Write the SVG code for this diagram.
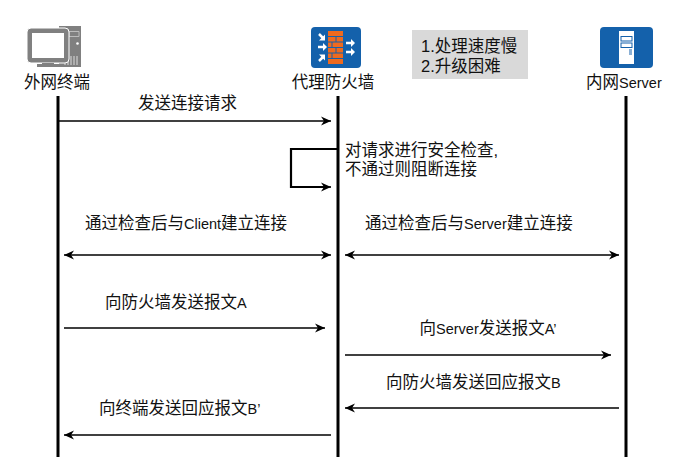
<svg xmlns="http://www.w3.org/2000/svg" width="698" height="457" viewBox="0 0 698 457">
<style>
text{font-family:"Liberation Sans","Noto Sans CJK SC",sans-serif;font-size:16.5px;font-weight:400;fill:#111}
tspan{font-size:14.5px}
.l{stroke:#000;stroke-width:3;fill:none}
.c{stroke:#000;stroke-width:1.6;fill:none}
.e{marker-end:url(#a)}
.s{marker-start:url(#b)}
.w{stroke:#fff;stroke-width:2.500;fill:none}
.h{fill:#fff}
</style>
<defs>
<marker id="a" markerUnits="userSpaceOnUse" markerWidth="12" markerHeight="12" refX="10" refY="5" orient="auto"><path d="M0 0.500L10 5L0 9.500L3 5Z" fill="#000"/></marker>
<marker id="b" markerUnits="userSpaceOnUse" markerWidth="12" markerHeight="12" refX="0" refY="5" orient="auto"><path d="M10 0.500L0 5L10 9.500L7 5Z" fill="#000"/></marker>
</defs>
<rect width="698" height="457" fill="#fff"/>
<g id="client">
<path d="M59 26h22v41h-22z" fill="#808080"/>
<path d="M69 31.500h10v5h-10z" fill="none" stroke="#bbb" stroke-width="1"/>
<circle cx="77.500" cy="43.500" r="1.300" fill="#fff"/>
<path d="M65 65v-9M68 65v-9M71 65v-9M74 65v-9M77 65v-9" stroke="#ddd" stroke-width="1"/>
<rect x="27" y="28" width="42" height="35" rx="4" fill="#808080" stroke="#fff" stroke-width="1"/>
<rect x="32" y="33" width="32" height="25" fill="#fff"/>
<path d="M42 63h12v1h9v3h-26v-3h5z" fill="#808080"/>
<text x="57" y="88" text-anchor="middle">外网终端</text>
<path class="l" d="M58 96V457"/>
</g>
<g id="firewall">
<rect x="311" y="27" width="50" height="41" rx="4" fill="#1461ab"/>
<rect x="328" y="31" width="15" height="33" fill="#ee6a1f"/>
<path d="M328 36.500h15M328 42h15M328 47.500h15M328 53h15M328 58.500h15M336 36.500v5.500M332 42v5.500M336 47.500v5.500M332 53v5.500" stroke="#1461ab" stroke-width="1" fill="none"/>
<path class="w" d="M319 34l5 5M318 47h6M319 61l5-5M346 43h6M346 52h6"/>
<path class="h" d="M325 40.500v-6l-6 6zM323 43l4 4l-4 4zM325 54.500v6l-6-6zM351 39l4 4l-4 4zM351 48l4 4l-4 4z"/>
<text x="333" y="88" text-anchor="middle">代理防火墙</text>
<path class="l" d="M338 96V457"/>
</g>
<g id="note">
<rect x="412" y="30" width="116" height="49" fill="#d9d9d9"/>
<text x="421" y="52">1.处理速度慢</text>
<text x="421" y="72">2.升级困难</text>
</g>
<g id="server">
<rect x="600" y="27" width="53" height="41" rx="4" fill="#1461ab"/>
<rect x="619" y="31" width="15" height="33" fill="#fff"/>
<rect x="621" y="36.500" width="11" height="4.500" fill="#fff" stroke="#1461ab"/>
<rect x="621" y="43" width="11" height="4.500" fill="#fff" stroke="#1461ab"/>
<path d="M629 50h3M629 52h3M629 54h3" stroke="#1461ab" stroke-width="1"/>
<text x="586" y="88">内网<tspan>Server</tspan></text>
<path class="l" d="M626 96V457"/>
</g>
<g id="connectors">
<path class="c e" d="M58 121H331"/>
<path d="M338 149H291V187H325" stroke="#000" stroke-width="2.200" fill="none"/>
<path class="c e" d="M320 187H331"/>
<path class="c e s" d="M64 255H331"/>
<path class="c e s" d="M345 255H619"/>
<path class="c e" d="M64 328H325"/>
<path class="c e" d="M345 355H611"/>
<path class="c e" d="M619 408H345"/>
<path class="c e" d="M331 435H64"/>
</g>
<g id="labels">
<text x="138" y="109">发送连接请求</text>
<text x="345" y="156">对请求进行安全检查,</text>
<text x="345" y="175">不通过则阻断连接</text>
<text x="85" y="229">通过检查后与<tspan>Client</tspan>建立连接</text>
<text x="365" y="229">通过检查后与<tspan>Server</tspan>建立连接</text>
<text x="105" y="308">向防火墙发送报文<tspan>A</tspan></text>
<text x="419.500" y="334">向<tspan>Server</tspan>发送报文<tspan>A’</tspan></text>
<text x="386" y="388">向防火墙发送回应报文<tspan>B</tspan></text>
<text x="99" y="414">向终端发送回应报文<tspan>B’</tspan></text>
</g>
</svg>
